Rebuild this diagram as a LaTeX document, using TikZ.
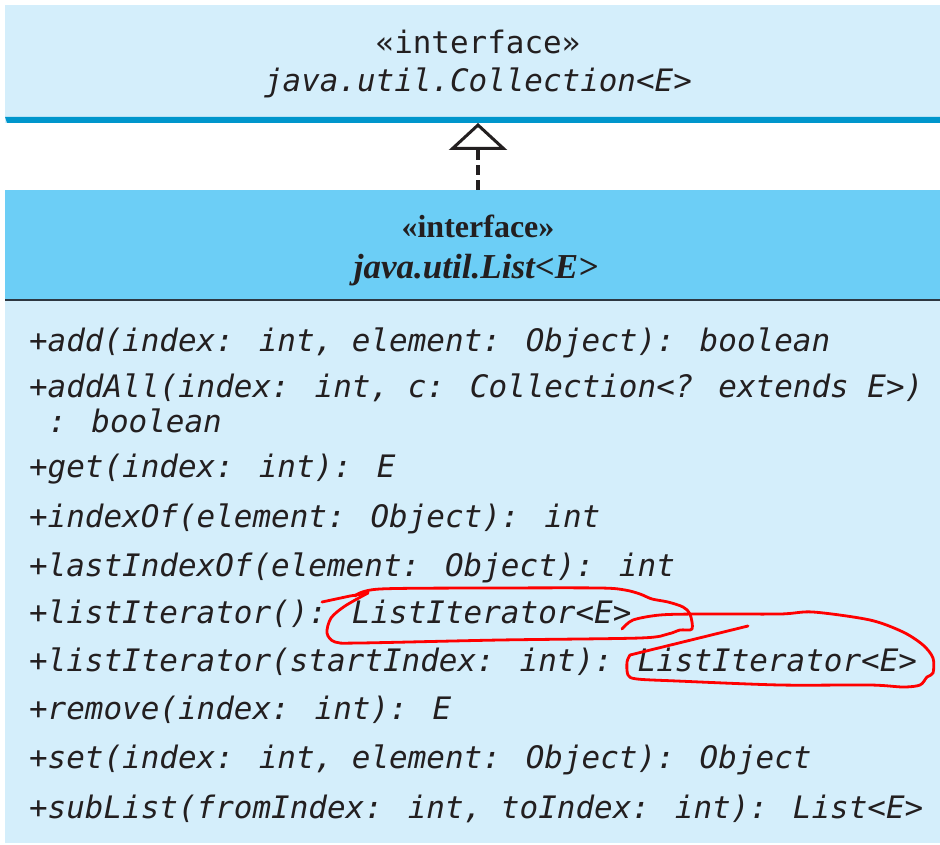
\documentclass[tikz,border=0pt]{standalone}
\usepackage{fontspec}
\usetikzlibrary{arrows.meta}
\newfontfamily\umlmono{DejaVu Sans Mono}
\newfontfamily\umlserif{Liberation Serif}
\definecolor{paleblue}{RGB}{212,238,251}
\definecolor{headblue}{RGB}{108,206,246}
\definecolor{barblue}{RGB}{0,150,204}
\definecolor{sepgray}{RGB}{45,55,65}
\definecolor{inkdark}{RGB}{35,31,32}
\tikzset{
  boxpart/.style={rectangle, draw=none, inner sep=0pt, outer sep=0pt, anchor=north west},
  monotext/.style={inner sep=0pt, outer sep=0pt, text=inkdark, font=\umlmono\fontsize{30.9pt}{36pt}\selectfont},
  methodtext/.style={monotext, anchor=base west, font=\umlmono\itshape\fontsize{30.95pt}{36pt}\selectfont},
  serifhead/.style={inner sep=0pt, outer sep=0pt, anchor=base, text=inkdark, font=\umlserif\bfseries\fontsize{32pt}{36pt}\selectfont},
  scribble/.style={draw=red, line width=2.8pt, line cap=round, line join=round}
}
\begin{document}
\begin{tikzpicture}[x=1pt, y=-1pt]
\useasboundingbox[fill=white] (0,0) rectangle (940,845);
\begin{scope}
\clip (0,0) rectangle (940,845);
% Collection box
\node[boxpart, fill=paleblue, minimum width=946pt, minimum height=118pt] (coll) at (5,5) {};
\fill[barblue] (5,117) -- (951,117) -- (951,123) -- (7,123) -- cycle;
% List header
\node[boxpart, fill=headblue, minimum width=946pt, minimum height=110pt] (listhead) at (5,190) {};
% separator and body
\node[boxpart, fill=paleblue, minimum width=946pt, minimum height=543pt] (listbody) at (5,300) {};
\draw[sepgray, line width=2pt] (listbody.north west) -- (listbody.north east);
\end{scope}
\node[monotext, anchor=base] (collster) at (478,54) {«interface»};
\node[monotext, anchor=base, font=\umlmono\itshape\fontsize{30.9pt}{36pt}\selectfont] (collname) at (478,92) {java.util.Collection<E>};
\node[serifhead] (listster) at (478,238) {«interface»};
\node[serifhead, font=\umlserif\bfseries\itshape\fontsize{35pt}{36pt}\selectfont] (listname) at (476,278) {java.util.List<E>};
% realization arrow
\draw[inkdark, line width=4.5pt, dash pattern=on 10pt off 5pt,
  -{Triangle[width=58pt, length=27pt, fill=white, line width=3pt, sep=0pt]}]
  (listhead.north) -- (coll.south);
% methods
\node[methodtext] (m1) at (29,351) {+add(index: int, element: Object): boolean};
\node[methodtext] (m2) at (29,397) {+addAll(index: int, c: Collection<? extends E>)};
\node[methodtext] (m2b) at (48,432) {: boolean};
\node[methodtext] (m3) at (29,477) {+get(index: int): E};
\node[methodtext] (m4) at (29,527) {+indexOf(element: Object): int};
\node[methodtext] (m5) at (29,576) {+lastIndexOf(element: Object): int};
\node[methodtext] (m6) at (29,623) {+listIterator(): ListIterator<E>};
\node[methodtext] (m7) at (29,671) {+listIterator(startIndex: int): ListIterator<E>};
\node[methodtext] (m8) at (29,719) {+remove(index: int): E};
\node[methodtext] (m9) at (29,768) {+set(index: int, element: Object): Object};
\node[methodtext] (m10) at (29,818) {+subList(fromIndex: int, toIndex: int): List<E>};
% red hand-drawn marks
\draw[scribble] (322,602) -- (350,596) -- (368,593);
\draw[scribble] plot[smooth, tension=0.5] coordinates {
  (368,593) (345,606) (331,618) (327,633) (335,642) (360,643) (500,640)
  (640,638) (668,634) (680,630) (692,629) (690,614) (683,607) (668,602)
  (652,599) (640,594) (625,590) (600,588) (500,588) (380,589) (355,596)};
\draw[scribble] plot[smooth, tension=0.5] coordinates {
  (622,629) (633,620) (660,615) (700,614) (780,614) (813,612) (870,620)
  (903,632) (923,645) (933,658) (933,673) (927,677) (920,685) (903,687)
  (870,685) (780,685) (677,681) (637,679) (628,675) (627,662) (630,655)};
\draw[scribble] (630,655) -- (748,626);
\end{tikzpicture}
\end{document}
